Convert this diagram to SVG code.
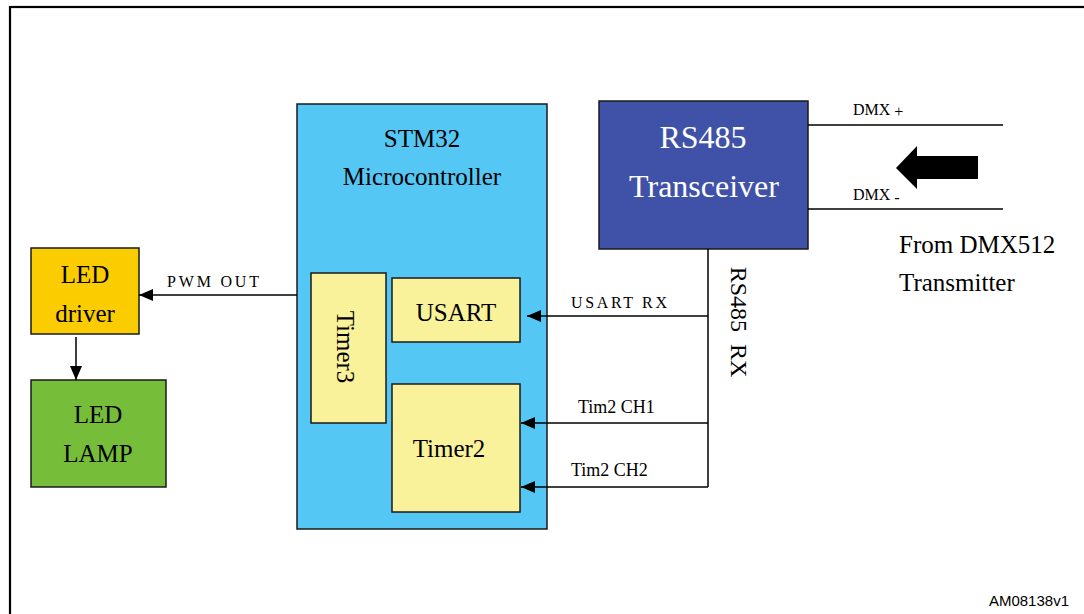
<svg xmlns="http://www.w3.org/2000/svg" width="1084" height="614" viewBox="0 0 1084 614">
<defs>
<style>
.box{stroke:#1a1a1a;stroke-width:1.5}
.t{font-family:"Liberation Serif","Times New Roman",serif;fill:#000}
.big{font-size:25px}
.ln{stroke:#000;stroke-width:1.5;fill:none}
</style>
<marker id="ah" viewBox="0 0 14 12" refX="14" refY="6" markerUnits="userSpaceOnUse" markerWidth="14" markerHeight="12" orient="auto">
<path d="M0,0 L14,6 L0,12 z" fill="#000"/>
</marker>
</defs>
<rect width="1084" height="614" fill="#fff"/>
<rect x="10" y="7" width="1090" height="620" fill="none" stroke="#000" stroke-width="2.2"/>

<g id="stm32">
<rect class="box" x="297" y="104" width="250" height="425" fill="#55C7F5"/>
<text class="t big" x="422" y="147" text-anchor="middle">STM32</text>
<text class="t big" x="422" y="185" text-anchor="middle">Microcontroller</text>
</g>
<g id="timer3">
<rect class="box" x="311" y="273" width="75" height="150" fill="#F9F29A"/>
<text class="t big" transform="translate(337,347) rotate(90)" text-anchor="middle">Timer3</text>
</g>
<g id="usart">
<rect class="box" x="392" y="278" width="128" height="64" fill="#F9F29A"/>
<text class="t big" x="456" y="321" text-anchor="middle">USART</text>
</g>
<g id="timer2">
<rect class="box" x="392" y="384" width="128" height="128" fill="#F9F29A"/>
<text class="t big" x="449" y="457" text-anchor="middle">Timer2</text>
</g>
<g id="rs485">
<rect class="box" x="599" y="101" width="209" height="148" fill="#3F52A8"/>
<text class="t" x="703" y="148" text-anchor="middle" font-size="32" style="fill:#fff">RS485</text>
<text class="t" x="704" y="197" text-anchor="middle" font-size="32" style="fill:#fff">Transceiver</text>
</g>
<g id="led-driver">
<rect class="box" x="31" y="248" width="108" height="86" fill="#FBCD00"/>
<text class="t big" x="85" y="283" text-anchor="middle">LED</text>
<text class="t big" x="85" y="322" text-anchor="middle">driver</text>
</g>
<g id="led-lamp">
<rect class="box" x="31" y="380" width="135" height="107" fill="#76BE3A"/>
<text class="t big" x="98" y="423" text-anchor="middle">LED</text>
<text class="t big" x="98" y="462" text-anchor="middle">LAMP</text>
</g>

<g id="connectors">
<line class="ln" x1="297" y1="295" x2="139" y2="295" marker-end="url(#ah)"/>
<line class="ln" x1="76" y1="337" x2="76" y2="380" marker-end="url(#ah)"/>
<polyline class="ln" points="708,249 708,487"/>
<line class="ln" x1="708" y1="316" x2="527" y2="316" marker-end="url(#ah)"/>
<line class="ln" x1="708" y1="423" x2="521" y2="423" marker-end="url(#ah)"/>
<line class="ln" x1="708" y1="487" x2="521" y2="487" marker-end="url(#ah)"/>
<line class="ln" x1="808" y1="125" x2="1003" y2="125"/>
<line class="ln" x1="808" y1="209" x2="1003" y2="209"/>
<polygon points="896,168 917,146 917,156 978,156 978,179 917,179 917,189" fill="#000"/>
</g>

<g id="labels">
<text class="t" x="167" y="287" font-size="16" textLength="92" lengthAdjust="spacing">PWM OUT</text>
<text class="t" x="571" y="308" font-size="16" textLength="96" lengthAdjust="spacing">USART RX</text>
<text class="t" x="578" y="413" font-size="18">Tim2 CH1</text>
<text class="t" x="571" y="476" font-size="18">Tim2 CH2</text>
<text class="t" x="853" y="115" font-size="16">DMX <tspan dy="2">+</tspan></text>
<text class="t" x="853" y="200" font-size="16">DMX <tspan dy="3">-</tspan></text>
<text class="t" x="899" y="253" font-size="25">From DMX512</text>
<text class="t" x="899" y="291" font-size="25">Transmitter</text>
<text class="t" transform="translate(731,322) rotate(90)" text-anchor="middle" font-size="24" xml:space="preserve">RS485  RX</text>
<text x="1069" y="606" text-anchor="end" font-family="Liberation Sans, Arial, sans-serif" font-size="15">AM08138v1</text>
</g>
</svg>
